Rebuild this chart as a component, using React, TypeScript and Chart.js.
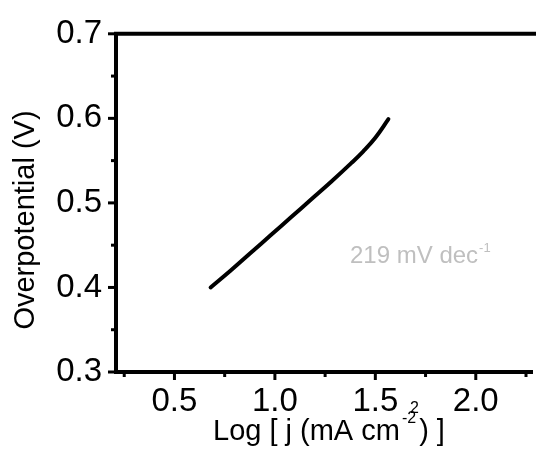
import React, { useEffect, useRef } from 'react';
import { Chart, registerables } from 'chart.js';

Chart.register(...registerables);

// ---- data ----
const logJ = [0.68, 0.78, 0.88, 0.98, 1.08, 1.18, 1.28, 1.38, 1.44, 1.50, 1.565];
const overpotential = [0.400, 0.420, 0.441, 0.462, 0.483, 0.504, 0.525, 0.547, 0.561, 0.577, 0.599];

const xTickValues = [0.25, 0.5, 0.75, 1.0, 1.25, 1.5, 1.75, 2.0, 2.25];
const yTickValues = [0.3, 0.35, 0.4, 0.45, 0.5, 0.55, 0.6, 0.65, 0.7];
const xMin = 0.209;
const xMax = 2.281;
const yMin = 0.3;
const yMax = 0.7;

const xTitle = 'Log [ j (mA cm';
const xTitleSup = '-2';
const xTitleEnd = ') ]';
const strayLabel = '2';
const yTitle = 'Overpotential (V)';
const slopeLabel = '219 mV dec';
const slopeSup = '-1';

const FONT = 'Liberation Sans, Arial, Helvetica, sans-serif';

const isMajorX = (v: number) => Math.abs(v * 2 - Math.round(v * 2)) < 1e-6;
const isMajorY = (v: number) => Math.abs(v * 10 - Math.round(v * 10)) < 1e-6;

const decorPlugin = {
  id: 'decor',
  afterDraw(chart: any) {
    const { ctx, chartArea: a, scales } = chart;
    const x = scales.x;
    const y = scales.y;
    ctx.save();
    ctx.strokeStyle = '#000';
    ctx.fillStyle = '#000';
    // top frame line
    ctx.lineWidth = 4;
    ctx.beginPath();
    ctx.moveTo(a.left - 2, a.top);
    ctx.lineTo(chart.width, a.top);
    ctx.stroke();
    // ticks
    ctx.lineWidth = 3;
    yTickValues.forEach((v) => {
      const py = y.getPixelForValue(v);
      const len = isMajorY(v) ? 6 : 3;
      ctx.beginPath();
      ctx.moveTo(a.left, py);
      ctx.lineTo(a.left - 2 - len, py);
      ctx.stroke();
    });
    xTickValues.forEach((v) => {
      const px = x.getPixelForValue(v);
      const len = isMajorX(v) ? 6 : 3;
      ctx.beginPath();
      ctx.moveTo(px, a.bottom);
      ctx.lineTo(px, a.bottom + 2 + len);
      ctx.stroke();
    });
    // y title
    ctx.save();
    ctx.translate(26, 220);
    ctx.rotate(-Math.PI / 2);
    ctx.font = `29px ${FONT}`;
    ctx.textAlign = 'center';
    ctx.textBaseline = 'middle';
    ctx.fillText(yTitle, 0, 0);
    ctx.restore();
    // x title
    ctx.textAlign = 'left';
    ctx.textBaseline = 'alphabetic';
    const x0 = 213;
    ctx.font = `29px ${FONT}`;
    ctx.fillText(xTitle, x0, 440);
    const w = ctx.measureText(xTitle).width;
    ctx.font = `16px ${FONT}`;
    const supX = x0 + w + 2;
    ctx.fillText(xTitleSup, supX, 423);
    const supW = ctx.measureText(xTitleSup).width;
    ctx.font = `29px ${FONT}`;
    ctx.fillText(xTitleEnd, supX + supW + 3, 440);
    // stray label near 1.5
    ctx.font = `16px ${FONT}`;
    ctx.fillText(strayLabel, 410, 413);
    // slope annotation
    ctx.fillStyle = '#bfbfbf';
    ctx.font = `24px ${FONT}`;
    ctx.fillText(slopeLabel, 350, 263);
    const sw = ctx.measureText(slopeLabel).width;
    ctx.font = `13px ${FONT}`;
    ctx.fillText(slopeSup, 350 + sw + 1, 252);
    ctx.restore();
  },
};

export default function App() {
  const canvasRef = useRef<HTMLCanvasElement | null>(null);

  useEffect(() => {
    if (!canvasRef.current) return;
    const chart = new Chart(canvasRef.current, {
      type: 'line',
      data: {
        datasets: [
          {
            data: logJ.map((v, i) => ({ x: v, y: overpotential[i] })),
            borderColor: '#000',
            borderWidth: 4,
            borderCapStyle: 'round',
            pointRadius: 0,
            tension: 0.4,
            fill: false,
          },
        ],
      },
      options: {
        responsive: false,
        animation: false,
        layout: { padding: { top: 30, right: 0, left: 0, bottom: 0 } },
        plugins: {
          legend: { display: false },
          tooltip: { enabled: false },
        },
        scales: {
          x: {
            type: 'linear',
            min: xMin,
            max: xMax,
            afterBuildTicks: (s: any) => {
              s.ticks = xTickValues.map((v) => ({ value: v }));
            },
            afterFit: (s: any) => {
              s.height = 78;
            },
            grid: { display: false, drawTicks: false },
            border: { display: true, color: '#000', width: 4 },
            ticks: {
              autoSkip: false,
              maxRotation: 0,
              padding: 10,
              color: '#000',
              font: { size: 33, family: FONT },
              callback: (v: any) => (isMajorX(Number(v)) ? Number(v).toFixed(1) : ''),
            },
          },
          y: {
            type: 'linear',
            min: yMin,
            max: yMax,
            afterBuildTicks: (s: any) => {
              s.ticks = yTickValues.map((v) => ({ value: v }));
            },
            afterFit: (s: any) => {
              s.width = 116;
            },
            grid: { display: false, drawTicks: false },
            border: { display: true, color: '#000', width: 4 },
            ticks: {
              autoSkip: false,
              padding: 14,
              color: '#000',
              font: { size: 33, family: FONT },
              callback: (v: any) => (isMajorY(Number(v)) ? Number(v).toFixed(1) : ''),
            },
          },
        },
      },
      plugins: [decorPlugin],
    } as any);
    return () => chart.destroy();
  }, []);

  return (
    <div style={{ position: 'fixed', left: 0, top: 0, width: 536, height: 450, background: '#fff' }}>
      <canvas ref={canvasRef} width={536} height={450} />
    </div>
  );
}
